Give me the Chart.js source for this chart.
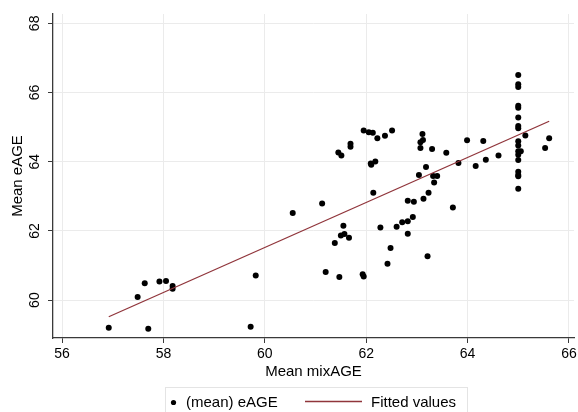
<!DOCTYPE html>
<html>
<head>
<meta charset="utf-8">
<script src="https://cdn.jsdelivr.net/npm/chart.js@4.4.1/dist/chart.umd.min.js"></script>
<style>
  html, body { margin: 0; padding: 0; background: #fff; }
  canvas { display: block; }
</style>
</head>
<body>
<canvas id="chart" width="578" height="412"></canvas>
<script>
// ─── DATA ────────────────────────────────────
const mixAge = [
  56.92, 57.49, 57.63, 57.70, 57.92, 58.05, 58.18, 58.18, 59.72, 59.82,
  60.55, 61.13, 61.55, 61.50, 61.57, 61.66, 61.38, 61.20, 61.47, 61.93, 61.95,
  61.45, 61.51, 61.69, 61.69, 61.95, 62.05, 62.13, 62.22, 62.37, 62.51,
  62.09, 62.10, 62.18, 62.14, 62.28, 62.48, 62.42, 62.60, 62.71, 62.82,
  62.92, 62.82, 62.82, 62.94, 63.13, 63.23, 63.21, 63.04, 63.18, 63.32,
  63.40, 63.34, 63.07, 63.07, 63.12, 63.11, 63.30, 63.58, 63.71, 63.82,
  63.99, 64.16, 64.31, 64.36, 64.61,
  65.00, 65.00, 65.00, 65.00, 65.00, 65.00, 65.00, 65.00, 65.00,
  65.00, 65.00, 65.00, 65.00, 65.00, 65.00, 65.00, 65.00,
  65.05, 65.14, 65.53, 65.61
];
const eAge = [
  59.20, 60.09, 60.49, 59.17, 60.54, 60.55, 60.41, 60.33, 59.23, 60.71,
  62.52, 62.79, 62.15, 61.87, 61.91, 61.80, 61.65, 60.81, 60.67, 60.75, 60.68,
  64.27, 64.18, 64.52, 64.43, 64.90, 64.85, 64.84, 64.68, 64.75, 64.90,
  63.95, 63.91, 64.01, 63.10, 62.10, 61.51, 61.05, 62.12, 62.25, 62.28,
  62.40, 61.92, 62.87, 62.84, 62.93, 63.10, 61.27, 63.62, 63.85, 63.59,
  63.59, 63.40, 64.40, 64.56, 64.63, 64.80, 64.37, 64.26, 62.68, 63.96,
  64.62, 63.88, 64.60, 64.06, 64.18,
  66.51, 66.24, 66.16, 65.62, 65.56, 65.28, 65.03, 64.97, 64.59,
  64.47, 64.30, 64.20, 64.05, 63.71, 63.62, 63.58, 63.22,
  64.30, 64.76, 64.40, 64.68
];
const fitX = [56.92, 65.61];
const fitY = [59.52, 65.17];

const xTicks = [56, 58, 60, 62, 64, 66];
const yTicks = [60, 62, 64, 66, 68];

const seriesLabels = ['(mean) eAGE', 'Fitted values'];

// ─── STYLE ───────────────────────────────────
const FONT = '"Liberation Sans", Arial, Helvetica, sans-serif';
const MAROON = 'rgb(144,53,59)';
const GRID = '#ebebeb';
const AXIS = '#3a3a3a';

// y tick labels (rotated) + legend box
const extrasPlugin = {
  id: 'extras',
  afterDraw(chart) {
    const ctx = chart.ctx;
    const y = chart.scales.y;
    ctx.save();
    ctx.fillStyle = '#000';
    ctx.font = '14px ' + FONT;
    ctx.textAlign = 'center';
    ctx.textBaseline = 'middle';
    y.ticks.forEach(t => {
      const py = y.getPixelForValue(t.value);
      ctx.save();
      ctx.translate(35, py);
      ctx.rotate(-Math.PI / 2);
      ctx.fillText(String(t.value), 0, 0);
      ctx.restore();
    });

    // legend
    const ds = chart.data.datasets;
    ctx.strokeStyle = '#e4e4e4';
    ctx.lineWidth = 1;
    ctx.strokeRect(165.5, 387.5, 302, 40);
    ctx.font = '15px ' + FONT;
    ctx.textAlign = 'left';
    ctx.fillStyle = '#000';
    ctx.beginPath();
    ctx.arc(173.5, 402.5, 2.6, 0, Math.PI * 2);
    ctx.fill();
    ctx.fillText(ds[0].label, 186, 402.5);
    ctx.strokeStyle = MAROON;
    ctx.lineWidth = 1.3;
    ctx.beginPath();
    ctx.moveTo(305, 401.5);
    ctx.lineTo(362, 401.5);
    ctx.stroke();
    ctx.fillText(ds[1].label, 371, 402.5);
    ctx.restore();
  }
};

new Chart(document.getElementById('chart'), {
  type: 'scatter',
  data: {
    datasets: [
      {
        label: seriesLabels[0],
        data: mixAge.map((x, i) => ({ x, y: eAge[i] })),
        backgroundColor: '#000',
        borderWidth: 0,
        pointRadius: 3,
        order: 2,
      },
      {
        label: seriesLabels[1],
        type: 'line',
        data: fitX.map((x, i) => ({ x, y: fitY[i] })),
        borderColor: MAROON,
        borderWidth: 1.3,
        pointRadius: 0,
        fill: false,
        order: 1,
      }
    ]
  },
  options: {
    responsive: false,
    animation: false,
    devicePixelRatio: 1,
    layout: { padding: { left: 0, top: 14, right: 2, bottom: 0 } },
    plugins: { legend: { display: false }, tooltip: { enabled: false } },
    scales: {
      x: {
        type: 'linear',
        min: 55.82,
        max: 66.1,
        afterBuildTicks: s => { s.ticks = xTicks.map(v => ({ value: v })); },
        afterFit: s => { s.height = 74; s.paddingLeft = 0; s.paddingRight = 0; },
        grid: { color: GRID, tickColor: AXIS, tickLength: 5, lineWidth: 1 },
        border: { color: AXIS, width: 1.3 },
        ticks: { color: '#000', font: { family: FONT, size: 14 }, padding: 3, maxRotation: 0 },
        title: {
          display: true, text: 'Mean mixAGE', color: '#000',
          font: { family: FONT, size: 15 }, padding: { top: 0, bottom: 31 }
        }
      },
      y: {
        type: 'linear',
        min: 58.905,
        max: 68.27,
        afterBuildTicks: s => { s.ticks = yTicks.map(v => ({ value: v })); },
        afterFit: s => { s.width = 53; s.paddingTop = 0; s.paddingBottom = 0; },
        grid: { color: GRID, tickColor: AXIS, tickLength: 5, lineWidth: 1 },
        border: { color: AXIS, width: 1.3 },
        ticks: { display: false },
        title: {
          display: true, text: 'Mean eAGE', color: '#000',
          font: { family: FONT, size: 15 }, padding: { top: 9, bottom: 0 }
        }
      }
    }
  },
  plugins: [extrasPlugin]
});
</script>
</body>
</html>
